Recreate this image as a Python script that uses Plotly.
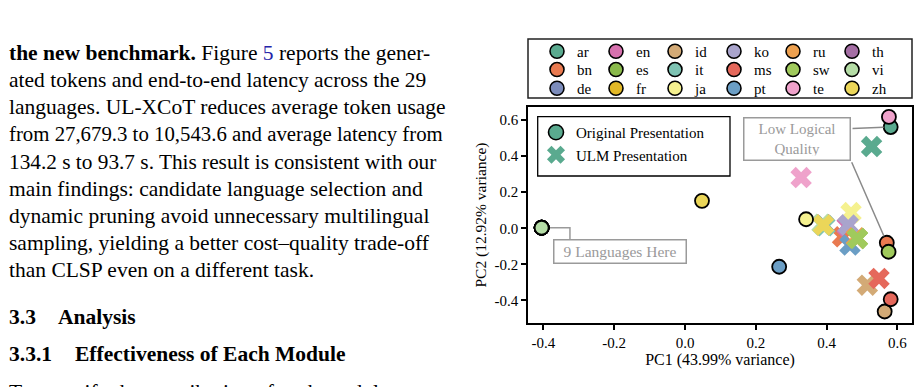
import plotly.graph_objects as go

# ---------------- data ----------------
languages = ['ar', 'bn', 'de', 'en', 'es', 'fr', 'id', 'it', 'ja',
             'ko', 'ms', 'pt', 'ru', 'sw', 'te', 'th', 'vi', 'zh']
lang_colors = ['#5aaa8f', '#e97a50', '#7c8cbb', '#d771ae', '#8aba4b', '#e2b827',
               '#d3aa76', '#7ec3b3', '#f5f18f', '#a9a4cc', '#e5685b', '#6b9ec5',
               '#eda04f', '#a0ca5c', '#efa2cb', '#a46ea4', '#b5dda6', '#ebd659']
# Original presentation (circles)
orig_pc1 = [0.581, 0.570, -0.405, -0.405, -0.405, -0.405, 0.564, -0.405, 0.342,
            -0.405, 0.581, 0.266, -0.405, 0.575, 0.576, -0.405, -0.405, 0.048]
orig_pc2 = [0.561, -0.080, 0.003, 0.003, 0.003, 0.003, -0.461, 0.003, 0.050,
            0.003, -0.393, -0.213, 0.003, -0.130, 0.617, 0.003, 0.003, 0.152]
# ULM presentation (crosses)
ulm_pc1 = [0.527, 0.445, 0.461, 0.458, 0.487, 0.391, 0.515, 0.395, 0.469,
           0.461, 0.548, 0.466, 0.484, 0.487, 0.328, 0.390, 0.387, 0.391]
ulm_pc2 = [0.453, -0.047, 0.018, 0.012, -0.056, 0.018, -0.315, 0.014, 0.087,
           0.018, -0.278, -0.093, -0.052, -0.056, 0.281, 0.020, 0.022, 0.018]

x_ticks = [-0.4, -0.2, 0.0, 0.2, 0.4, 0.6]
x_tick_text = ['-0.4', '-0.2', '0.0', '0.2', '0.4', '0.6']
y_ticks = [-0.4, -0.2, 0.0, 0.2, 0.4, 0.6]
y_tick_text = ['-0.4', '-0.2', '0.0', '0.2', '0.4', '0.6']
x_title = 'PC1 (43.99% variance)'
y_title = 'PC2 (12.92% variance)'

body_lines = [
    "<b>the new benchmark.</b> Figure <span style='color:#2424a8'>5</span> reports the gener-",
    "ated tokens and end-to-end latency across the 29",
    "languages. UL-XCoT reduces average token usage",
    "from 27,679.3 to 10,543.6 and average latency from",
    "134.2 s to 93.7 s. This result is consistent with our",
    "main findings: candidate language selection and",
    "dynamic pruning avoid unnecessary multilingual",
    "sampling, yielding a better cost–quality trade-off",
    "than CLSP even on a different task.",
]
body_line_y = [53, 80, 107, 134, 161.5, 189, 216, 243, 270]
body_line_size = [21.5, 21.5, 21.5, 20.8, 21.3, 21.5, 21.5, 21.5, 21.5]

FONT = 'Liberation Serif'
W, H = 919, 387
ML, MR, MT, MB = 528, 7, 107, 64
PW, PH = W - ML - MR, H - MT - MB


def px(xp):
    return (xp - ML) / PW


def py(yp):
    return (H - MB - yp) / PH


fig = go.Figure()

# ULM crosses
fig.add_trace(go.Scatter(
    x=ulm_pc1, y=ulm_pc2, mode='markers', showlegend=False, hoverinfo='skip',
    marker=dict(symbol='x', size=19, color=lang_colors, line=dict(width=0))))
# Original circles
fig.add_trace(go.Scatter(
    x=orig_pc1, y=orig_pc2, mode='markers', showlegend=False, hoverinfo='skip',
    marker=dict(symbol='circle', size=14, color=lang_colors,
                line=dict(color='black', width=1.8))))

# language legend: 3 rows x 6 columns, filled column by column
row_legends = ['legend', 'legend3', 'legend4']
for r in range(3):
    for c in range(6):
        i = r + 3 * c
        fig.add_trace(go.Scatter(
            x=[None], y=[None], mode='markers', name=languages[i], legend=row_legends[r],
            marker=dict(symbol='circle', size=14, color=lang_colors[i],
                        line=dict(color='black', width=1.6))))

# presentation legend
fig.add_trace(go.Scatter(
    x=[None], y=[None], mode='markers', name='Original Presentation', legend='legend2',
    marker=dict(symbol='circle', size=15, color=lang_colors[0],
                line=dict(color='black', width=1.6))))
fig.add_trace(go.Scatter(
    x=[None], y=[None], mode='markers', name='ULM Presentation', legend='legend2',
    marker=dict(symbol='x', size=16, color=lang_colors[0], line=dict(width=0))))

annotations = []
for t, yy, sz in zip(body_lines, body_line_y, body_line_size):
    annotations.append(dict(text=t, xref='paper', yref='paper', x=px(7), y=py(yy),
                            xanchor='left', yanchor='middle', showarrow=False,
                            font=dict(family=FONT, size=sz, color='black')))
for t, xx, yy in [('<b>3.3</b>', 7, 317), ('<b>Analysis</b>', 56, 317),
                  ('<b>3.3.1</b>', 7, 353.5), ('<b>Effectiveness of Each Module</b>', 72.5, 353.5),
                  ('To quantify the contribution of each module, we', 7, 392)]:
    annotations.append(dict(text=t, xref='paper', yref='paper', x=px(xx), y=py(yy),
                            xanchor='left', yanchor='middle', showarrow=False,
                            font=dict(family=FONT, size=21.5, color='black')))

ia = languages.index('ar')
ib = languages.index('bn')
iv = languages.index('vi')
# callout boxes
annotations.append(dict(text='Low Logical<br>Quality', x=0.3164, y=0.496, xref='x', yref='y',
                        showarrow=False, font=dict(family=FONT, size=15, color='#9a9a9a'),
                        bordercolor='#9a9a9a', borderwidth=1.5, borderpad=4,
                        width=97, height=33, bgcolor='white'))
annotations.append(dict(text='', x=orig_pc1[ia], y=orig_pc2[ia], ax=0.469, ay=0.552,
                        xref='x', yref='y', axref='x', ayref='y', showarrow=True,
                        arrowhead=0, arrowwidth=1.5, arrowcolor='#8a8a8a', standoff=7))
annotations.append(dict(text='', x=orig_pc1[ib], y=orig_pc2[ib], ax=0.469, ay=0.374,
                        xref='x', yref='y', axref='x', ayref='y', showarrow=True,
                        arrowhead=0, arrowwidth=1.5, arrowcolor='#8a8a8a', standoff=7))
annotations.append(dict(text='9 Languages Here', x=-0.185, y=-0.130, xref='x', yref='y',
                        showarrow=False, font=dict(family=FONT, size=15.5, color='#9a9a9a'),
                        bordercolor='#9a9a9a', borderwidth=1.5, borderpad=2,
                        width=127, height=18, bgcolor='white'))

shapes = [
    dict(type='path', xref='x', yref='y', layer='below',
         path=f'M {orig_pc1[iv]},{orig_pc2[iv]} H -0.325 V -0.061',
         line=dict(color='#9a9a9a', width=1.5)),
    dict(type='rect', xref='paper', yref='paper', x0=0, x1=1, y0=py(98), y1=py(39),
         line=dict(color='#222222', width=1.5), fillcolor='rgba(0,0,0,0)'),
    dict(type='rect', xref='paper', yref='paper', x0=px(537.7), x1=px(730),
         y0=py(176), y1=py(116.7), line=dict(color='black', width=1.3),
         fillcolor='rgba(0,0,0,0)'),
]

row_leg = dict(orientation='h', x=0.5 - 6 / PW, xanchor='center', yanchor='top',
               entrywidth=14, entrywidthmode='pixels', bgcolor='rgba(0,0,0,0)',
               borderwidth=0, font=dict(family=FONT, size=15), traceorder='normal')

fig.update_layout(
    width=W, height=H, template=None,
    margin=dict(l=ML, r=MR, t=MT, b=MB, pad=0, autoexpand=False),
    paper_bgcolor='white', plot_bgcolor='white',
    font=dict(family=FONT, size=13, color='black'),
    xaxis=dict(range=[-0.4435, 0.6412], tickvals=x_ticks, ticktext=x_tick_text,
               ticks='outside', ticklen=5, tickwidth=1.5, tickcolor='black',
               showline=True, linecolor='black', linewidth=1.6, mirror=True,
               showgrid=False, zeroline=False, automargin=False,
               tickfont=dict(family=FONT, size=15),
               title=dict(text=x_title, font=dict(family=FONT, size=16), standoff=0)),
    yaxis=dict(range=[-0.5247, 0.672], tickvals=y_ticks, ticktext=y_tick_text,
               ticks='outside', ticklen=5, tickwidth=1.5, tickcolor='black',
               showline=True, linecolor='black', linewidth=1.6, mirror=True,
               showgrid=False, zeroline=False, automargin=False,
               tickfont=dict(family=FONT, size=15),
               title=dict(text=y_title, font=dict(family=FONT, size=15.5), standoff=4)),
    legend=dict(row_leg, y=py(35)),
    legend3=dict(row_leg, y=py(53.3)),
    legend4=dict(row_leg, y=py(72)),
    legend2=dict(orientation='v', x=px(536), xanchor='left', y=py(116), yanchor='top',
                 bgcolor='rgba(0,0,0,0)', borderwidth=0, tracegroupgap=0,
                 font=dict(family=FONT, size=15)),
    annotations=annotations, shapes=shapes,
)

fig.write_html('out.html')
